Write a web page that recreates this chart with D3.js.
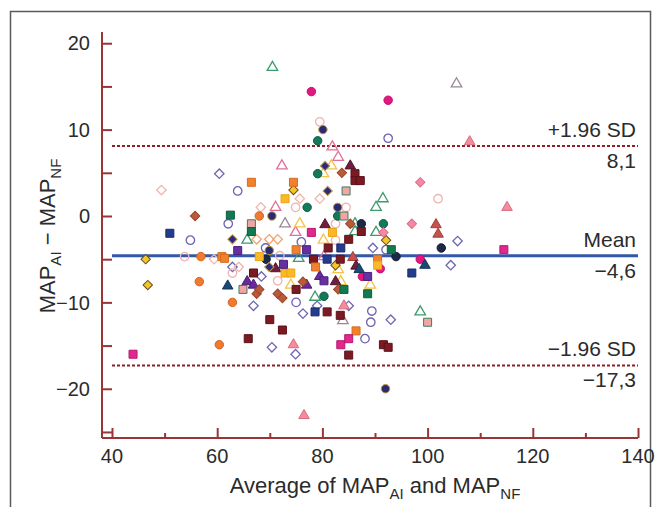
<!DOCTYPE html>
<html>
<head>
<meta charset="utf-8">
<script src="https://cdn.jsdelivr.net/npm/d3@7"></script>
<style>
  html, body { margin: 0; padding: 0; background: #fff; }
  svg { display: block; font-family: "Liberation Sans", Arial, Helvetica, sans-serif; }
</style>
</head>
<body>
<svg id="chart" width="661" height="507"></svg>
<script>
// ---- axes ----
const xTicks = [40, 50, 60, 70, 80, 90, 100, 110, 120, 130, 140];
const xTickLabels = ["40", "60", "80", "100", "120", "140"];
const xLabelValues = [40, 60, 80, 100, 120, 140];
const yTicks = [-25, -20, -15, -10, -5, 0, 5, 10, 15, 20];
const yLabelValues = [-20, -10, 0, 10, 20];
const yTickLabels = ["−20", "−10", "0", "10", "20"];

// ---- mean difference and limits of agreement ----
const limitValues = [8.1, -4.6, -17.3];
const limitNames = ["+1.96 SD", "Mean", "−1.96 SD"];
const limitLabels = ["8,1", "−4,6", "−17,3"];

// ---- measurements: [average, difference] per subject marker ----
const greenTriangleOpen = [[70.5,17.2],[90.2,1.0],[91.5,2.0],[86.2,-0.9],[86.2,-1.8],[90.2,-1.9],[65.7,-2.8],[75.5,-4.9],[78.6,-9.4],[98.6,-11.1]];
const magentaCircle = [[77.9,14.4],[92.5,13.4],[87.6,-7.0],[98.6,-5.0],[91.0,-6.1]];
const grayTriangleOpen = [[105.5,15.3],[72.9,-0.9],[83.9,-12.1]];
const pinkCircleOpen = [[79.5,10.9],[84.5,1.0],[82.5,-0.9],[53.8,-4.7],[62.9,-6.6],[71.9,-4.6],[71.5,-7.5],[102.0,2.0],[74.9,1.0],[82.5,-2.8]];
const navyCircle = [[80.1,10.0],[82.9,1.0],[70.4,0.0],[69.9,-4.0],[92.0,-20.0]];
const greenCircle = [[79.1,8.7],[79.1,4.9],[77.1,1.0],[82.9,0.0],[91.6,-0.9],[80.3,-9.3]];
const purpleCircleOpen = [[92.5,9.0],[63.9,2.9],[62.1,-0.9],[54.9,-2.8],[69.2,-3.7],[75.0,-10.0],[89.4,-11.0],[89.2,-12.3],[88.1,-14.2],[92.1,-3.9],[76.0,-3.0]];
const salmonTriangle = [[108.0,8.6],[115.1,1.0],[84.1,-10.4],[76.5,-23.1],[74.5,-14.9]];
const pinkTriangleOpen = [[81.9,8.0],[83.0,6.8],[72.3,5.8],[71.1,1.0],[74.9,-1.9],[80.3,-4.7]];
const purpleDiamondOpen = [[60.4,4.9],[62.9,-5.9],[66.9,-10.4],[68.4,-7.0],[70.4,-15.2],[74.9,-16.0],[76.3,-11.3],[79.0,-10.4],[85.0,-10.4],[93.0,-12.0],[104.4,-5.7],[105.7,-2.9],[89.6,-3.7]];
const navyDiamond = [[80.5,5.8],[81.0,2.9],[62.9,-2.7],[69.9,-5.9]];
const yellowTriangleOpen = [[81.7,5.8],[80.2,4.9],[75.7,-0.9],[74.0,-8.0],[83.0,-6.2],[83.5,-7.6],[89.1,-8.0],[80.2,-2.8]];
const brownDiamond = [[83.7,5.0],[55.8,0.0],[85.3,-0.9],[67.5,-9.0],[68.0,-8.5],[71.5,-9.0],[72.4,-9.5],[76.3,-7.6],[83.0,-8.5]];
const maroonTriangle = [[85.3,5.8],[80.5,-1.0],[71.1,-6.1],[82.5,-7.6],[86.4,-5.8]];
const maroonSquare = [[86.2,4.9],[86.2,4.1],[87.2,4.1],[87.4,-1.8],[66.9,-6.6],[65.9,-14.2],[70.0,-12.0],[72.4,-13.2],[75.0,-8.5],[78.3,-5.0],[80.9,-11.1],[81.1,-3.7],[83.4,-5.0],[83.4,-11.5],[85.0,-2.7],[91.6,-14.9],[92.5,-15.2],[85.0,-16.1]];
const pinkDiamondOpen = [[49.4,3.0],[75.7,2.0],[79.5,2.0],[68.3,1.0],[59.4,-5.0],[64.1,-5.9]];
const orangeSquare = [[66.5,3.9],[74.5,3.9],[60.9,-4.7],[61.4,-4.9],[75.0,-3.9],[78.7,-5.9],[86.4,-13.3],[90.5,-5.0]];
const yellowDiamond = [[74.5,3.0],[46.4,-5.0],[46.8,-8.0],[82.5,-5.7],[92.1,-2.8]];
const goldSquare = [[72.9,2.0],[81.9,-1.9],[68.0,-4.7],[72.9,-6.6],[74.0,-6.6],[90.5,-5.7]];
const roseSquare = [[84.5,2.9],[84.1,0.0],[66.5,-0.9],[64.9,-8.5],[100.0,-12.3]];
const pinkDiamond = [[98.6,3.9],[97.0,-0.9],[91.6,-1.9]];
const greenSquare = [[62.5,0.1],[66.5,-1.8],[84.1,-8.5],[88.6,-9.0],[93.1,-3.9]];
const orangeCircle = [[68.0,0.0],[56.9,-4.7],[56.6,-7.6],[62.9,-10.0],[60.4,-14.9]];
const rustTriangle = [[101.6,-1.0],[102.0,-2.1],[85.8,-4.8]];
const navySquare = [[51.0,-2.0],[78.6,-11.1],[80.9,-5.0],[83.5,-3.7],[97.0,-6.6]];
const purpleSquare = [[63.9,-4.0],[72.6,-5.6],[77.0,-3.9],[80.3,-7.5],[88.6,-7.0]];
const magentaSquare = [[44.0,-16.0],[77.9,-1.9],[83.5,-14.9],[85.0,-14.2],[114.5,-3.9]];
const navyTriangle = [[62.0,-8.1],[99.5,-5.7],[87.0,-6.2]];
const purpleTriangle = [[65.7,-7.6],[66.9,-8.0],[77.0,-8.0],[79.5,-7.0]];
const darkCircle = [[87.4,-0.9],[102.6,-3.7],[94.0,-4.7],[69.3,-5.0]];
const orangeDiamondOpen = [[67.5,-2.7],[69.9,-2.7],[71.5,-2.7]];

// marker appearance for each point set
const markerSets = [
  { points: purpleDiamondOpen,  shape: "diamond",  fill: "none",    stroke: "#6c68b2" },
  { points: pinkDiamondOpen,    shape: "diamond",  fill: "none",    stroke: "#f1b6ae" },
  { points: orangeDiamondOpen,  shape: "diamond",  fill: "none",    stroke: "#f2a46e" },
  { points: pinkCircleOpen,     shape: "circle",   fill: "none",    stroke: "#f0b3b3" },
  { points: purpleCircleOpen,   shape: "circle",   fill: "none",    stroke: "#6d62b0" },
  { points: greenTriangleOpen,  shape: "triangle", fill: "none",    stroke: "#3f9a6e" },
  { points: grayTriangleOpen,   shape: "triangle", fill: "none",    stroke: "#9a8896" },
  { points: pinkTriangleOpen,   shape: "triangle", fill: "none",    stroke: "#e0709c" },
  { points: yellowTriangleOpen, shape: "triangle", fill: "none",    stroke: "#f5c24a" },
  { points: magentaCircle,      shape: "circle",   fill: "#e3177d", stroke: "#c0106a" },
  { points: navyCircle,         shape: "circle",   fill: "#2c2a74", stroke: "#b89a3a" },
  { points: greenCircle,        shape: "circle",   fill: "#13795a", stroke: "#0e5e44" },
  { points: orangeCircle,       shape: "circle",   fill: "#f07a30", stroke: "#d2621e" },
  { points: darkCircle,         shape: "circle",   fill: "#1c2a48", stroke: "#111c30" },
  { points: salmonTriangle,     shape: "triangle", fill: "#f48c9c", stroke: "#d86a80" },
  { points: rustTriangle,       shape: "triangle", fill: "#c4534c", stroke: "#a23e3a" },
  { points: maroonTriangle,     shape: "triangle", fill: "#6e1e3e", stroke: "#52142c" },
  { points: navyTriangle,       shape: "triangle", fill: "#1c4a78", stroke: "#12365a" },
  { points: purpleTriangle,     shape: "triangle", fill: "#6a2a9a", stroke: "#4e1c76" },
  { points: navyDiamond,        shape: "diamond",  fill: "#2e2a78", stroke: "#c0a050" },
  { points: brownDiamond,       shape: "diamond",  fill: "#b95b3b", stroke: "#9a4428" },
  { points: yellowDiamond,      shape: "diamond",  fill: "#f2c62a", stroke: "#6a4a18" },
  { points: pinkDiamond,        shape: "diamond",  fill: "#f38aa5", stroke: "#e06a8a" },
  { points: maroonSquare,       shape: "square",   fill: "#7a1a22", stroke: "#5e1018" },
  { points: orangeSquare,       shape: "square",   fill: "#f0822e", stroke: "#d86a1c" },
  { points: goldSquare,         shape: "square",   fill: "#fbb924", stroke: "#e9a416" },
  { points: roseSquare,         shape: "square",   fill: "#f2a5a5", stroke: "#3e7e5e" },
  { points: greenSquare,        shape: "square",   fill: "#127a50", stroke: "#0c5e3c" },
  { points: navySquare,         shape: "square",   fill: "#233c8c", stroke: "#182c6c" },
  { points: purpleSquare,       shape: "square",   fill: "#6530a0", stroke: "#4c2080" },
  { points: magentaSquare,      shape: "square",   fill: "#e0288e", stroke: "#b8186e" }
];

const svg = d3.select("#chart");
const axisColor = "#9b3434";
const textColor = "#2b2b2b";

// outer frame
svg.append("rect")
  .attr("x", 10.5).attr("y", 11.5)
  .attr("width", 640).attr("height", 520)
  .attr("fill", "none").attr("stroke", "#5a5a5a").attr("stroke-width", 1.5);

const x = d3.scaleLinear().domain([38.1, 140]).range([102, 638]);
const y = d3.scaleLinear().domain([-25.7, 21.3]).range([438, 32]);

// y axis: ticks pointing inward
const yAxis = svg.append("g").attr("transform", `translate(${x(38.1)},0)`)
  .call(d3.axisRight(y).tickValues(yTicks).tickSize(10).tickFormat(""));
yAxis.select(".domain").attr("d", `M0,${y(21.3)}V${y(-25.7)}`);
yAxis.selectAll("path, line").attr("stroke", axisColor).attr("stroke-width", 2);

svg.append("g").selectAll("text")
  .data(yLabelValues)
  .join("text")
  .attr("x", 90).attr("y", d => y(d))
  .attr("dy", "0.36em")
  .attr("text-anchor", "end")
  .attr("font-size", 20).attr("fill", textColor)
  .text((d, i) => yTickLabels[i]);

// x axis: major ticks every 20, minor every 10
const xAxis = svg.append("g").attr("transform", `translate(0,${y(-25.7)})`)
  .call(d3.axisTop(x).tickValues(xTicks).tickSizeOuter(0)
    .tickSizeInner(10).tickFormat(""));
xAxis.select(".domain").attr("d", `M${x(38.1)},0H${x(140)}`);
xAxis.selectAll(".tick line")
  .attr("y2", d => (xLabelValues.includes(d) ? -10 : -5));
xAxis.selectAll("path, line").attr("stroke", axisColor).attr("stroke-width", 2);

svg.append("g").selectAll("text")
  .data(xLabelValues)
  .join("text")
  .attr("x", d => x(d)).attr("y", y(-25.7) + 25)
  .attr("text-anchor", "middle")
  .attr("font-size", 20).attr("fill", textColor)
  .text((d, i) => xTickLabels[i]);

// axis titles with subscripts
const xTitle = svg.append("text")
  .attr("x", 375).attr("y", 493)
  .attr("text-anchor", "middle")
  .attr("font-size", 22).attr("fill", textColor);
xTitle.append("tspan").text("Average of MAP");
xTitle.append("tspan").attr("font-size", 15).attr("dy", 6).text("AI");
xTitle.append("tspan").attr("dy", -6).text(" and MAP");
xTitle.append("tspan").attr("font-size", 15).attr("dy", 6).text("NF");

const yTitle = svg.append("text")
  .attr("transform", "translate(55,236) rotate(-90)")
  .attr("text-anchor", "middle")
  .attr("font-size", 22).attr("fill", textColor);
yTitle.append("tspan").text("MAP");
yTitle.append("tspan").attr("font-size", 15).attr("dy", 6).text("AI");
yTitle.append("tspan").attr("dy", -6).text(" − MAP");
yTitle.append("tspan").attr("font-size", 15).attr("dy", 6).text("NF");

// mean and limits of agreement
const refLines = svg.append("g");
limitValues.forEach((v, i) => {
  const isMean = i === 1;
  refLines.append("line")
    .attr("x1", x(40)).attr("x2", x(140))
    .attr("y1", y(v)).attr("y2", y(v))
    .attr("stroke", isMean ? "#3358a8" : "#8e1f24")
    .attr("stroke-width", isMean ? 3 : 2)
    .attr("stroke-dasharray", isMean ? null : "3,2");
  refLines.append("text")
    .attr("x", x(140) - 2).attr("y", y(v) - 9)
    .attr("text-anchor", "end")
    .attr("font-size", 21).attr("fill", textColor)
    .text(limitNames[i]);
  refLines.append("text")
    .attr("x", x(140) - 2).attr("y", y(v) + 22)
    .attr("text-anchor", "end")
    .attr("font-size", 21).attr("fill", textColor)
    .text(limitLabels[i]);
});

// markers
const symbolFor = {
  circle: d3.symbol().type(d3.symbolCircle).size(56),
  square: d3.symbol().type(d3.symbolSquare).size(64),
  triangle: d3.symbol().type(d3.symbolTriangle).size(48),
  diamond: d3.symbol().type(d3.symbolSquare).size(44)
};

const markers = svg.append("g");
markerSets.forEach(set => {
  markers.append("g").selectAll("path")
    .data(set.points)
    .join("path")
    .attr("d", symbolFor[set.shape])
    .attr("transform", d => `translate(${x(d[0])},${y(d[1])})` + (set.shape === "diamond" ? " rotate(45)" : ""))
    .attr("fill", set.fill === "none" ? "#fff" : set.fill)
    .attr("fill-opacity", set.fill === "none" ? 0 : 1)
    .attr("stroke", set.stroke)
    .attr("stroke-width", set.fill === "none" ? 1.3 : 1);
});
</script>
</body>
</html>
